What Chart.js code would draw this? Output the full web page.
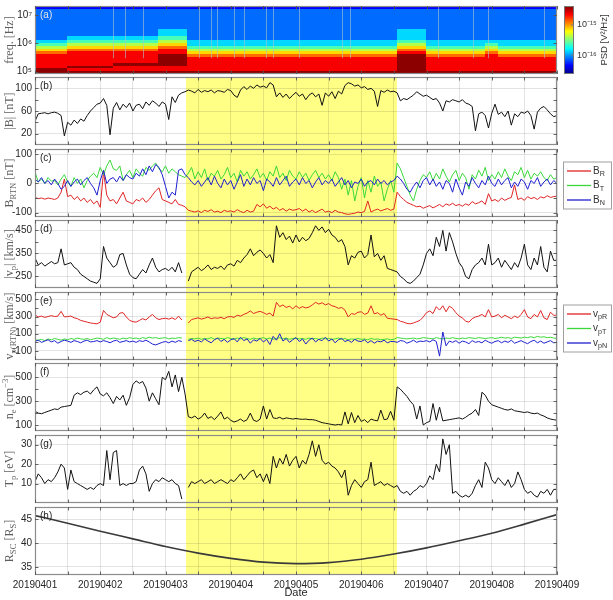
<!DOCTYPE html>
<html>
<head>
<meta charset="utf-8">
<script src="https://cdn.jsdelivr.net/npm/chart.js@4.4.1/dist/chart.umd.min.js"></script>
<style>
  html, body { margin: 0; padding: 0; background: #fff; }
  #wrap { position: relative; width: 613px; height: 600px; overflow: hidden; }
  #wrap canvas { position: absolute; left: 0; }
  #band { position: absolute; background: #ffff86; }
</style>
</head>
<body>
<div id="wrap"><div id="band"></div></div>
<script>
// ---- time axis ----
const dateLabels = ['20190401', '20190402', '20190403', '20190404', '20190405', '20190406', '20190407', '20190408', '20190409'];
const gridDays = [0, 0.5, 1, 1.5, 2, 2.5, 3, 3.5, 4, 4.5, 5, 5.5, 6, 6.5, 7, 7.5, 8];
const sampleStep = 0.05; // days between samples of the series below
const highlight = [2.32, 5.55]; // yellow interval, days from 20190401

// ---- (a) spectrogram: rows top -> bottom, one char per time segment (index into psdLevels) ----
const freqEdgesLog = [4.9, 5.0, 5.1, 5.2, 5.3, 5.4, 5.5, 5.6, 5.7, 5.8, 5.9, 6.0, 6.1, 6.25, 6.5, 7.0, 7.2, 7.35];
const spectroDays = [0, 0.5, 1.2, 1.9, 2.33, 3.4, 4.5, 5.55, 6.0, 6.9, 7.1, 8.0];
const psdLevels = [-16.6, -16.36, -16.11, -15.87, -15.62, -15.38, -15.13, -14.89, -14.64, -14.4];
const psdGrid = [
  '11111111111',
  '22222222222',
  '22222222222',
  '22232223222',
  '23342223222',
  '34453334333',
  '45563335343',
  '56674446454',
  '67785557565',
  '78886668676',
  '88897779787',
  '88898889888',
  '88898889888',
  '88998889888',
  '89888889888',
  '98888889888',
  '99999999999'
];
const burstDays = [1.2, 1.38, 1.66, 2.52, 2.7, 2.79, 3.05, 3.2, 3.54, 3.65, 4.05, 4.71, 4.83, 6.17, 6.72, 6.95, 7.8];
const burstFreq = [3e5, 2.1e7];
const cbRange = [-16.63, -14.37];
const cbTicks = [-15, -16];
const cbTickLabels = ['10\u207B\u00B9\u2075', '10\u207B\u00B9\u2076'];

// ---- (b) |B| [nT] ----
const bMag = [
  42, 55, 56, 57, 55, 57, 58, 56, 52, 16,
  40, 35, 44, 38, 46, 42, 52, 60, 66, 72,
  74, 82, 70, 18, 65, 75, 62, 72, 66, 74,
  60, 70, 72, 64, 76, 70, 78, 74, 68, 76,
  72, 45, 85, 75, 88, 92, 94, 97, 95, 92,
  98, 93, 96, 94, 97, 92, 96, 95, 93, 98,
  96, 88, 84, 97, 103, 98, 104, 100, 106, 102,
  104, 101, 110, 106, 85, 92, 84, 90, 82, 88,
  93, 86, 90, 80, 88, 92, 85, 90, 70, 92,
  86, 94, 82, 95, 90, 105, 110, 108, 104, 106,
  101, 103, 98, 100, 95, 68, 96, 93, 97, 94,
  95, 92, 78, 82, 80, 84, 88, 94, 90, 86,
  88, 84, 80, 82, 74, 60, 78, 76, 80, 78,
  76, 80, 74, 72, 68, 25, 55, 58, 52, 30,
  56, 72, 54, 58, 50, 60, 35, 55, 50, 58,
  56, 60, 52, 28, 58, 65, 68, 62, 55, 50,
  52
];

// ---- (c) B_RTN [nT] ----
const bR = [
  -48, -52, -50, -54, -50, -52, -55, -50, -30, 15,
  -45, -40, -55, -45, -60, -50, -65, -55, -70, -60,
  -82, 40, -40, -60, -55, -70, -50, -30, -60, -65,
  -70, -55, -60, -50, -65, -55, -40, -25, -15, -55,
  -60, -65, -70, -55, -72, -75, -80, -92, -95, -98,
  -94, -100, -92, -96, -90, -98, -95, -100, -92, -96,
  -94, -98, -90, -96, -100, -92, -98, -95, -72, -80,
  -70, -85, -78, -88, -82, -92, -86, -95, -88, -92,
  -90, -86, -95, -88, -98, -92, -100, -94, -88, -98,
  -95, -100, -92, -98, -100, -104, -106, -104, -102, -98,
  -100, -96, -60, -98, -92, -88, -94, -90, -86, -92,
  -88, -30, -45, -55, -65, -70, -75, -80, -78, -85,
  -80, -76, -84, -78, -72, -80, -70, -75, -68, -76,
  -72, -78, -70, -75, -62, -70, -66, -60, -72, -35,
  -60, -55, -62, -50, -58, -52, -48, -5, -55, -50,
  -58, -45, -52, -48, -55, -46, -50, -42, -48, -45,
  -44
];
const bT = [
  40, 5, 15, 0, 20, 8, 10, -5, 15, 30,
  5, -10, 20, 0, 15, -15, 10, 25, 35, 20,
  55, 30, 60, 80, 50, 45, 60, 10, 30, 45,
  20, 50, 35, 25, 55, 45, 60, 70, 50, 40,
  60, 35, 50, 40, 30, 25, 20, 35, 55, 15,
  40, 20, 50, 10, 35, 25, 45, 15, 30, 55,
  20, 35, 5, 45, 25, 40, 15, 30, 50, 20,
  35, 10, 40, 25, 60, 20, 35, 10, 45, 25,
  15, 40, 20, 35, 10, 30, 45, 20, 35, 15,
  30, 10, 40, 20, -20, 15, -40, 10, -60, -10,
  20, -50, 10, -30, 25, -10, 5, -60, -20, 10,
  -30, 70, 50, 20, -10, -40, -60, -20, 10, 30,
  20, 40, 10, 35, 15, 50, 25, 5, 30, 45,
  10, 35, 20, -20, 30, 15, 45, 25, 55, 10,
  30, 15, 40, 20, 50, 25, 10, 40, 30, 55,
  20, 45, 15, 35, 25, 40, 20, 10, 30, 15,
  20
];
const bN = [
  15, 5, 20, 0, 10, -5, 15, 0, -20, -10,
  10, -10, 5, 15, -5, 10, 20, 0, -15, -40,
  10, 45, 0, 15, 20, 5, 25, 10, 30, 20,
  15, 35, 25, 50, 30, 60, 40, 65, 55, 30,
  -10, -50, -30, -40, 45, 50, 30, 20, 5, -5,
  10, -10, 5, 20, -5, 25, 0, -15, 15, -5,
  10, -20, 5, 30, -10, 15, -5, 20, 0, 10,
  -25, 15, 5, -10, 20, -5, 10, 25, -10, 5,
  15, -5, 20, 0, 10, -15, 5, 20, -5, 10,
  0, 15, -10, 5, 20, -5, 10, -15, 5, 0,
  15, -10, 5, 10, -5, 15, 0, 10, -5, 5,
  10, 25, 15, 0, -20, -30, -10, 5, -15, 10,
  20, -5, 15, -10, 5, -20, 10, 0, -30, 15,
  -15, -40, 5, -10, 20, 0, -15, 10, -5, 25,
  0, -10, 15, -5, 10, 20, -15, 5, -10, 15,
  5, -20, 10, 0, 20, -10, 5, 15, -5, 10,
  0
];

// ---- (d) |v_p| [km/s] ----
const vpMag = [
  330, 300, 310, 295, 305, 315, 305, 310, 370, 300,
  305, 310, 290, 280, 260, 250, 240, 230, 225, 220,
  240, 380, 330, 310, 290, 300, 345, 350, 300, 260,
  245, 240, 260, 280, 265, 300, 330, 290, 270, 280,
  285, 275, 290, 270, 310, 265, null, 230, 270, 280,
  290, 275, 285, 300, 280, 290, 285, 295, 280, 300,
  305, 295, 320, 310, 330, 345, 370, 340, 355, 365,
  350, 330, 345, 310, 470, 420, 440, 410, 425, 395,
  430, 400, 420, 405, 415, 440, 470, 450, 465, 440,
  455, 430, 420, 400, 410, 380, 300, 340, 330, 355,
  360, 330, 345, 430, 335, 350, 320, 340, 285, 280,
  275, 270, 250, 240, 225, 220, 230, 245, 260, 300,
  350, 370, 340, 420, 380, 450, 360, 440, 400, 350,
  310, 290, 250, 240, 280, 300, 310, 330, 300, 390,
  300, 310, 330, 290, 320, 300, 280, 310, 290, 330,
  390, 300, 280, 330, 300, 380, 290, 270, 360, 320,
  320
];

// ---- (e) v_p(RTN) [km/s] ----
const vpR = [
  320, 295, 305, 290, 300, 310, 300, 305, 360, 295,
  300, 305, 285, 275, 255, 245, 235, 225, 220, 215,
  235, 370, 325, 305, 285, 295, 340, 345, 295, 255,
  240, 235, 255, 275, 260, 295, 325, 285, 265, 275,
  280, 270, 285, 265, 305, 260, null, 225, 265, 275,
  285, 270, 280, 295, 275, 285, 280, 290, 275, 295,
  300, 290, 315, 305, 325, 340, 365, 335, 350, 360,
  345, 325, 340, 305, 465, 415, 435, 405, 420, 390,
  425, 395, 415, 400, 410, 435, 465, 445, 460, 435,
  450, 425, 415, 395, 405, 375, 295, 335, 325, 350,
  355, 325, 340, 425, 330, 345, 315, 335, 280, 275,
  270, 265, 245, 235, 220, 215, 225, 240, 255, 295,
  345, 365, 335, 415, 375, 425, 355, 420, 395, 345,
  305, 285, 245, 235, 275, 295, 305, 325, 295, 380,
  295, 305, 325, 285, 315, 295, 275, 305, 285, 325,
  380, 295, 275, 325, 295, 370, 285, 265, 350, 315,
  315
];
const vpT = [
  30, 25, 35, 20, 40, 30, 45, 35, 25, 40,
  30, 45, 35, 50, 40, 35, 45, 30, 40, 50,
  45, 35, 55, 40, 50, 45, 35, 50, 40, 55,
  45, 50, 40, 55, 45, 60, 50, 55, 45, 50,
  55, 40, 50, 45, 55, 50, null, 35, 45, 40,
  50, 35, 45, 40, 55, 35, 50, 45, 40, 55,
  45, 35, 50, 40, 55, 45, 35, 50, 40, 45,
  55, 40, 50, 35, 45, 55, 40, 50, 35, 45,
  50, 40, 45, 35, 50, 40, 45, 35, 50, 40,
  45, 35, 40, 50, 35, 45, 30, 40, 35, 45,
  35, 40, 30, 45, 35, 40, 30, 35, 40, 30,
  35, 55, 50, 45, 40, 45, 50, 40, 45, 55,
  50, 45, 40, 55, 45, 40, 50, 45, 55, 45,
  40, 50, 45, 55, 50, 45, 55, 50, 45, 50,
  55, 45, 50, 60, 50, 55, 45, 60, 55, 50,
  60, 55, 65, 55, 70, 60, 65, 55, 60, 50,
  45
];
const vpN = [
  10, 25, 0, 15, 30, 5, 20, -10, 10, 25,
  15, 0, 20, 10, -5, 15, 25, 5, 10, 20,
  5, 20, 10, -5, 15, 25, 0, 10, 20, 5,
  15, 0, 20, 10, 25, 5, -20, -30, -15, 0,
  10, -5, 15, 0, 20, 10, null, 20, 35, 10,
  25, 5, 40, 15, -5, 30, 50, 10, 35, 0,
  30, 45, 5, 60, 20, 40, -10, 30, 15, 45,
  5, 35, -25, 70, 25, 100, 15, 45, 0, 30,
  55, 10, 40, -20, 25, 50, 5, 35, 20, 60,
  15, 40, -5, 30, 45, 10, 25, 0, 35, 15,
  10, 30, -5, 20, -10, 15, 5, 25, -5, 10,
  10, 0, 20, 15, -10, 5, 25, 0, 15, 10,
  20, 5, 30, 10, -160, 120, -40, 15, 0, 20,
  -10, 15, 5, -15, 20, 0, 10, -5, 25, 5,
  -10, 10, 20, -5, 15, 0, 25, -10, 5, 20,
  0, -15, 10, 25, -5, 15, -10, 5, 20, -5,
  0
];

// ---- (f) n_e [cm^-3] ----
const ne = [
  215, 200, 195, 205, 215, 225, 235, 230, 250, 255,
  260, 265, 350, 370, 355, 375, 385, 360, 395, 420,
  360, 345, 370, 330, 280, 340, 310, 350, 265, 330,
  440, 470, 450, 465, 410, 300, 370, 320, 270, 500,
  480, 550, 420, 520, 380, 500, 360, 170, 160, 175,
  150, 165, 200, 155, 170, 145, 175, 210, 150, 165,
  140, 125, 135, 150, 130, 145, 200, 140, 130, 150,
  260, 150, 230, 160, 155, 165, 150, 160, 155, 150,
  155, 150, 148, 150, 145, 145, 140, 130, 120, 115,
  110, 105, 100, 105, 100, 210, 110, 205, 120, 180,
  130, 145, 120, 150, 140, 135, 225, 145, 150, 215,
  140, 420, 400, 370, 340, 300, 270, 150, 260, 100,
  120, 130, 280, 140, 250, 135, 140, 145, 150, 155,
  160, 150, 165, 185, 200, 230, 180, 375, 350, 300,
  270, 260, 250, 240, 230, 225, 235, 220, 215, 210,
  205, 210, 200, 195, 200, 185, 175, 160, 150, 145,
  140
];

// ---- (g) T_p [eV] ----
const tp = [
  11, 15, 13, 10, 12, 11, 13, 16, 20, 18,
  7, 17, 11, 10, 9, 8, 7, 8, 7, 9,
  10, 9, 27, 12, 26, 27, 9, 10, 9, 10,
  10, 11, 17, 19, 15, 6, 10, 12, 11, 13,
  12, 11, 12, 10, 9, 2, null, 8, 11, 10,
  11, 12, 10, 11, 12, 10, 11, 12, 11, 10,
  12, 11, 13, 15, 12, 14, 16, 17, 13, 15,
  11, 15, 10, 24, 18, 23, 20, 25, 19, 22,
  24, 18, 22, 20, 25, 32, 24, 30, 22, 20,
  21, 19, 18, 16, 13, 17, 4, 9, 12, 10,
  8, 11, 12, 21, 9, 10, 11, 9, 10, 9,
  8, 9, 6, 5, 6, 4, 6, 7, 9, 8,
  10, 14, 12, 20, 16, 33, 25, 30, 5, 6,
  4, 3, 4, 3, 5, 9, 12, 8, 21, 18,
  12, 10, 13, 11, 9, 12, 8, 10, 16, 12,
  7, 5, 6, 4, 3, 6, 5, 7, 4, 7,
  7
];

// ---- (h) R_SC [R_S] ----
const rscDays = [0, 0.5, 1, 1.5, 2, 2.5, 3, 3.5, 4, 4.5, 5, 5.5, 6, 6.5, 7, 7.5, 8];
const rsc = [45.8, 44.2, 42.5, 40.9, 39.3, 37.9, 36.8, 36.0, 35.7, 35.9, 36.6, 37.7, 39.0, 40.5, 42.1, 44.0, 46.0];

// ---- tick values ----
const freqTicks = [1e5, 1e6, 1e7];
const freqTickLabels = ['10\u2075', '10\u2076', '10\u2077'];
const bTicks = [20, 40, 60, 80, 100];
const brtnTicks = [-100, -50, 0, 50, 100];
const vpTicks = [250, 300, 350, 400, 450];
const vrtnTicks = [-100, 0, 100, 200, 300, 400, 500];
const neTicks = [100, 200, 300, 400, 500];
const tpTicks = [10, 20, 30];
const rscTicks = [35, 40, 45];

// ---- layout ----
const PLOT_LEFT = 35, PLOT_RIGHT = 557, PANEL_H = 68, MARGIN = 1;
const panelTops = [6, 77, 149, 220, 292, 363, 435, 507];
const RED = '#e02424', GREEN = '#3ad83a', BLUE = '#1f1fd0';
const SANS = "'Liberation Sans', Arial, sans-serif";
const SERIF = "'Liberation Serif', 'DejaVu Serif', serif";
Chart.defaults.font.family = SANS;

function jet(t) {
  t = Math.max(0, Math.min(1, t));
  const c = v => Math.round(255 * Math.max(0, Math.min(1, v)));
  return `rgb(${c(1.5 - Math.abs(4 * t - 3))},${c(1.5 - Math.abs(4 * t - 2))},${c(1.5 - Math.abs(4 * t - 1))})`;
}

function series(values, color, order, width) {
  return {
    data: values.map((v, i) => ({ x: i * sampleStep, y: v })),
    borderColor: color, borderWidth: width || 1, pointRadius: 0,
    tension: 0, spanGaps: false, order: order || 0
  };
}

// text with sub/superscripts: parts = [[text, 0 normal | 1 sub | 2 sup], ...]
function drawRich(ctx, x, y, parts, size, family, color, align) {
  const fonts = parts.map(p => (p[1] ? size * 0.72 : size) + 'px ' + family);
  const widths = parts.map((p, i) => { ctx.font = fonts[i]; return ctx.measureText(p[0]).width; });
  const total = widths.reduce((a, b) => a + b, 0);
  let cx = align === 'left' ? x : x - total / 2;
  ctx.fillStyle = color;
  ctx.textAlign = 'left';
  ctx.textBaseline = 'middle';
  parts.forEach((p, i) => {
    ctx.font = fonts[i];
    const dy = p[1] === 1 ? size * 0.32 : p[1] === 2 ? -size * 0.38 : 0;
    ctx.fillText(p[0], cx, y + dy);
    cx += widths[i];
  });
}

const panels = [
  { label: '(a)', labelColor: '#e6e6e6', title: [['freq. [Hz]', 0]], log: true, min: 8.3e4, max: 2.1e7,
    ticks: freqTicks, fmt: v => freqTickLabels[freqTicks.indexOf(v)], datasets: [], spectro: true },
  { label: '(b)', title: [['|B| [nT]', 0]], min: 0, max: 120, ticks: bTicks,
    datasets: [series(bMag, '#111')] },
  { label: '(c)', title: [['B', 0], ['RTN', 1], [' [nT]', 0]], min: -115, max: 118, ticks: brtnTicks,
    datasets: [series(bR, RED, 3), series(bT, GREEN, 2), series(bN, BLUE, 1)],
    legend: [[[['B', 0], ['R', 1]], RED], [[['B', 0], ['T', 1]], GREEN], [[['B', 0], ['N', 1]], BLUE]] },
  { label: '(d)', title: [['|v', 0], ['p', 1], ['| [km/s]', 0]], min: 200, max: 495, ticks: vpTicks,
    datasets: [series(vpMag, '#111')] },
  { label: '(e)', title: [['v', 0], ['p(RTN)', 1], [' [km/s]', 0]], min: -205, max: 585, ticks: vrtnTicks,
    datasets: [series(vpR, RED, 3), series(vpT, GREEN, 2), series(vpN, BLUE, 1)],
    legend: [[[['v', 0], ['pR', 1]], RED], [[['v', 0], ['pT', 1]], GREEN], [[['v', 0], ['pN', 1]], BLUE]] },
  { label: '(f)', title: [['n', 0], ['e', 1], [' [cm', 0], ['\u22123', 2], [']', 0]], min: 50, max: 620, ticks: neTicks,
    datasets: [series(ne, '#111')] },
  { label: '(g)', title: [['T', 0], ['p', 1], [' [eV]', 0]], min: 0, max: 35, ticks: tpTicks,
    datasets: [series(tp, '#111')] },
  { label: '(h)', title: [['R', 0], ['SC', 1], [' [R', 0], ['S', 1], [']', 0]], min: 33.3, max: 47.6, ticks: rscTicks,
    datasets: [{ data: rscDays.map((d, i) => ({ x: d, y: rsc[i] })), borderColor: '#3a3a3a', borderWidth: 1.6,
      pointRadius: 0, cubicInterpolationMode: 'monotone' }] }
];

function panelPlugin(p) {
  return {
    id: 'panel',
    beforeDatasetsDraw(chart) {
      if (!p.spectro) return;
      const { ctx, chartArea: ca, scales: { x, y } } = chart;
      ctx.save();
      ctx.beginPath(); ctx.rect(ca.left, ca.top, ca.width, ca.height); ctx.clip();
      const n = psdGrid.length;
      psdGrid.forEach((row, k) => {
        const r = n - 1 - k;
        const yTop = y.getPixelForValue(Math.pow(10, freqEdgesLog[r + 1]));
        const yBot = y.getPixelForValue(Math.pow(10, freqEdgesLog[r]));
        for (let j = 0; j < row.length; j++) {
          const x0 = x.getPixelForValue(spectroDays[j]);
          const x1 = x.getPixelForValue(spectroDays[j + 1]);
          const v = psdLevels[+row[j]];
          ctx.fillStyle = jet((v - cbRange[0]) / (cbRange[1] - cbRange[0]));
          ctx.fillRect(Math.floor(x0), Math.floor(yTop), Math.ceil(x1 - x0) + 1, Math.ceil(yBot - yTop) + 1);
        }
      });
      ctx.strokeStyle = 'rgba(175,195,205,0.6)';
      ctx.lineWidth = 1;
      burstDays.forEach(d => {
        const px = Math.round(x.getPixelForValue(d)) + 0.5;
        ctx.beginPath();
        ctx.moveTo(px, y.getPixelForValue(burstFreq[0]));
        ctx.lineTo(px, y.getPixelForValue(burstFreq[1]));
        ctx.stroke();
      });
      ctx.restore();
    },
    afterDraw(chart) {
      const { ctx, chartArea: ca, scales: { x, y } } = chart;
      ctx.save();
      // frame
      ctx.strokeStyle = '#8c8c8c';
      ctx.lineWidth = 1.2;
      ctx.strokeRect(ca.left + 0.5, ca.top + 0.5, ca.width - 1, ca.height - 1);
      // inward tick marks
      ctx.strokeStyle = '#555';
      ctx.lineWidth = 0.9;
      ctx.beginPath();
      gridDays.forEach(d => {
        const px = Math.round(x.getPixelForValue(d)) + 0.5;
        ctx.moveTo(px, ca.bottom); ctx.lineTo(px, ca.bottom - 3.5);
        ctx.moveTo(px, ca.top); ctx.lineTo(px, ca.top + 3.5);
      });
      p.ticks.forEach(v => {
        const py = Math.round(y.getPixelForValue(v)) + 0.5;
        ctx.moveTo(ca.left, py); ctx.lineTo(ca.left + 3.5, py);
        ctx.moveTo(ca.right, py); ctx.lineTo(ca.right - 3.5, py);
      });
      ctx.stroke();
      // panel tag
      ctx.font = '10px ' + SANS;
      ctx.fillStyle = p.labelColor || '#262626';
      ctx.textAlign = 'left';
      ctx.textBaseline = 'middle';
      ctx.fillText(p.label, ca.left + 5, ca.top + 9);
      // y title
      ctx.save();
      ctx.translate(10, (ca.top + ca.bottom) / 2);
      ctx.rotate(-Math.PI / 2);
      drawRich(ctx, 0, 0, p.title, 12, SERIF, '#5e5e5e', 'center');
      ctx.restore();
      // legend box
      if (p.legend) {
        const lx = 563, lw = 48, ly = ca.top + 12.5, lh = 47;
        ctx.fillStyle = '#fff';
        ctx.fillRect(lx, ly, lw, lh);
        ctx.strokeStyle = '#a0a0a0';
        ctx.lineWidth = 1;
        ctx.strokeRect(lx + 0.5, ly + 0.5, lw, lh);
        p.legend.forEach(([parts, color], i) => {
          const ry = ly + 9.5 + i * 14.5;
          ctx.strokeStyle = color;
          ctx.lineWidth = 1.3;
          ctx.beginPath(); ctx.moveTo(lx + 4, ry); ctx.lineTo(lx + 28, ry); ctx.stroke();
          drawRich(ctx, lx + 30, ry, parts, 10, SANS, '#333', 'left');
        });
      }
      // colour bar for the spectrogram
      if (p.spectro) {
        const cbx = 564, cbw = 10, top = ca.top, bot = ca.bottom;
        for (let py = top; py < bot; py++) {
          ctx.fillStyle = jet(1 - (py + 0.5 - top) / (bot - top));
          ctx.fillRect(cbx, py, cbw, 1);
        }
        ctx.strokeStyle = '#777';
        ctx.lineWidth = 1;
        ctx.strokeRect(cbx + 0.5, top + 0.5, cbw - 1, bot - top - 1);
        ctx.font = '9px ' + SANS;
        ctx.fillStyle = '#333';
        ctx.textAlign = 'left';
        ctx.textBaseline = 'middle';
        cbTicks.forEach((v, i) => {
          const py = bot - (v - cbRange[0]) / (cbRange[1] - cbRange[0]) * (bot - top);
          ctx.beginPath(); ctx.moveTo(cbx + cbw - 3, py); ctx.lineTo(cbx + cbw, py); ctx.stroke();
          ctx.fillText(cbTickLabels[i], cbx + cbw + 3, py);
        });
        ctx.save();
        ctx.translate(604, (top + bot) / 2);
        ctx.rotate(-Math.PI / 2);
        ctx.font = '9.5px ' + SANS;
        ctx.textAlign = 'center';
        ctx.fillText('PSD [V\u00B2/Hz]', 0, 0);
        ctx.restore();
      }
      ctx.restore();
    }
  };
}

const wrap = document.getElementById('wrap');
const charts = [];
panels.forEach((p, i) => {
  const last = i === panels.length - 1;
  const top = panelTops[i] - MARGIN;
  const h = last ? 600 - top : PANEL_H + 2 * MARGIN;
  const cv = document.createElement('canvas');
  cv.width = 613; cv.height = h;
  cv.style.top = top + 'px';
  cv.style.width = '613px'; cv.style.height = h + 'px';
  wrap.appendChild(cv);
  charts.push(new Chart(cv, {
    type: 'line',
    data: { datasets: p.datasets },
    options: {
      responsive: false, animation: false, events: [],
      layout: { autoPadding: false, padding: { left: 0, right: 613 - PLOT_RIGHT, top: MARGIN, bottom: last ? 0 : MARGIN } },
      plugins: { legend: { display: false }, tooltip: { enabled: false } },
      scales: {
        x: {
          type: 'linear', min: 0, max: 8,
          grid: { display: !p.spectro, color: 'rgba(0,0,0,0.11)', drawTicks: false },
          border: { display: false },
          afterBuildTicks: s => { s.ticks = gridDays.map(v => ({ value: v })); },
          ticks: {
            display: last, autoSkip: false, maxRotation: 0, padding: 4,
            font: { size: 10 }, color: '#262626',
            callback: v => Number.isInteger(v) ? dateLabels[v] : ''
          },
          title: { display: last, text: 'Date', font: { size: 11 }, color: '#262626', padding: { top: 0, bottom: 0 } },
          afterFit: s => {
            s.height = last ? 600 - (panelTops[i] + PANEL_H) : 0;
            s.paddingLeft = 0; s.paddingRight = 0;
          }
        },
        y: {
          type: p.log ? 'logarithmic' : 'linear', min: p.min, max: p.max,
          grid: { display: !p.spectro, color: 'rgba(0,0,0,0.11)', drawTicks: false },
          border: { display: false },
          afterBuildTicks: s => { s.ticks = p.ticks.map(v => ({ value: v })); },
          ticks: { padding: 3, font: { size: 10 }, color: '#262626', callback: p.fmt || (v => String(v)) },
          afterFit: s => { s.width = PLOT_LEFT; s.paddingTop = 0; s.paddingBottom = 0; }
        }
      }
    },
    plugins: [panelPlugin(p)]
  }));
});

// yellow interval behind panels (b)-(h), placed with the x scale
const xs = charts[1].scales.x;
const band = document.getElementById('band');
const bx0 = xs.getPixelForValue(highlight[0]);
const bx1 = xs.getPixelForValue(highlight[1]);
band.style.left = bx0 + 'px';
band.style.width = (bx1 - bx0) + 'px';
band.style.top = panelTops[1] + 'px';
band.style.height = (panelTops[7] + PANEL_H - panelTops[1]) + 'px';
</script>
</body>
</html>
